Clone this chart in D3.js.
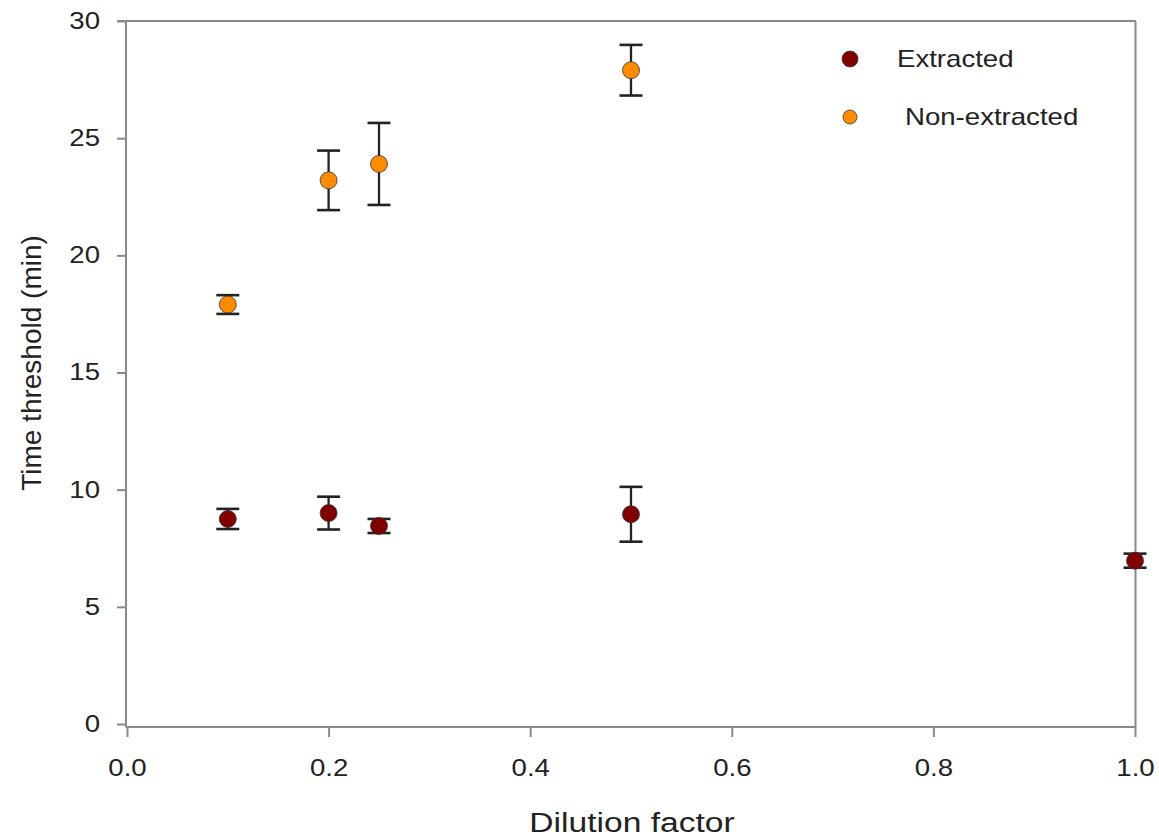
<!DOCTYPE html>
<html>
<head>
<meta charset="utf-8">
<script src="https://cdn.jsdelivr.net/npm/d3@7"></script>
<style>
body { margin: 0; background: #fff; }
text { font-family: "Liberation Sans", Arial, sans-serif; fill: #222; }
</style>
</head>
<body>
<script>
var width = 1159, height = 840;

// dilution factors and readings
var extractedX = [0.1, 0.2, 0.25, 0.5, 1.0];
var extractedY = [8.75, 9.0, 8.45, 8.95, 6.97];
var extractedErr = [0.43, 0.7, 0.3, 1.17, 0.3];

var nonExtractedX = [0.1, 0.2, 0.25, 0.5];
var nonExtractedY = [17.9, 23.2, 23.9, 27.9];
var nonExtractedErr = [0.4, 1.27, 1.75, 1.08];

var xTicks = [0.0, 0.2, 0.4, 0.6, 0.8, 1.0];
var yTicks = [0, 5, 10, 15, 20, 25, 30];

var seriesNames = ["Extracted", "Non-extracted"];
var seriesColors = ["#800000", "#ff8c00"];

var x = d3.scaleLinear().domain([0, 1]).range([127, 1135]);
var y = d3.scaleLinear().domain([0, 30]).range([724, 21]);
var axisColor = "#8a8a8a";
var stretch = 1.2; // the original picture is a bit wider than tall

var svg = d3.select("body")
.append("svg")
.attr("width", width)
.attr("height", height);

// frame: top and right lines
svg.append("line")
	.attr("x1", 117).attr("y1", y(30)).attr("x2", 1136).attr("y2", y(30))
	.attr("stroke", axisColor).attr("stroke-width", 2);
svg.append("line")
	.attr("x1", 1135.5).attr("y1", y(30)).attr("x2", 1135.5).attr("y2", 727)
	.attr("stroke", axisColor).attr("stroke-width", 2);

var yAxis = svg.append("g")
	.attr("transform", "translate(126,0)")
	.call(d3.axisLeft(y).tickValues(yTicks).tickSize(9).tickPadding(17).tickFormat(d3.format("d")));

var xAxis = svg.append("g")
	.attr("transform", "translate(0,727)")
	.call(d3.axisBottom(x).tickValues(xTicks).tickSize(10).tickPadding(23).tickFormat(d3.format(".1f")));

[yAxis, xAxis].forEach(function(ax){
	ax.select(".domain").attr("stroke", axisColor).attr("stroke-width", 2);
	ax.selectAll(".tick line").attr("stroke", axisColor).attr("stroke-width", 2);
	ax.selectAll(".tick text")
		.attr("font-size", 23).attr("fill", "#222")
		.attr("font-family", "Liberation Sans, Arial, sans-serif")
		.attr("x", function(){ return (+d3.select(this).attr("x") || 0) / stretch; })
		.attr("transform", "scale(" + stretch + ",1)");
});
yAxis.select(".domain").attr("d", "M0,727V" + y(30));
xAxis.select(".domain").attr("d", "M" + 126 + ",0H1136");

svg.append("text")
	.attr("transform", "translate(632,832) scale(" + stretch + ",1)")
	.attr("text-anchor", "middle")
	.attr("font-size", 28)
	.text("Dilution factor");

svg.append("text")
	.attr("transform", "translate(41,363) rotate(-90)")
	.attr("text-anchor", "middle")
	.attr("font-size", 28)
	.text("Time threshold (min)");

function drawSeries(xs, ys, errs, color){
	var g = svg.append("g");
	var pts = xs.map(function(d, i){ return {x: d, y: ys[i], e: errs[i]}; });
	var capW = 11.5;
	g.selectAll(".err").data(pts).enter().append("line")
		.attr("x1", function(d){ return x(d.x); }).attr("x2", function(d){ return x(d.x); })
		.attr("y1", function(d){ return y(d.y - d.e); }).attr("y2", function(d){ return y(d.y + d.e); })
		.attr("stroke", "#222").attr("stroke-width", 2.3);
	g.selectAll(".capTop").data(pts).enter().append("line")
		.attr("x1", function(d){ return x(d.x) - capW; }).attr("x2", function(d){ return x(d.x) + capW; })
		.attr("y1", function(d){ return y(d.y + d.e); }).attr("y2", function(d){ return y(d.y + d.e); })
		.attr("stroke", "#222").attr("stroke-width", 2.6);
	g.selectAll(".capBot").data(pts).enter().append("line")
		.attr("x1", function(d){ return x(d.x) - capW; }).attr("x2", function(d){ return x(d.x) + capW; })
		.attr("y1", function(d){ return y(d.y - d.e); }).attr("y2", function(d){ return y(d.y - d.e); })
		.attr("stroke", "#222").attr("stroke-width", 2.6);
	g.selectAll("circle").data(pts).enter().append("circle")
		.attr("cx", function(d){ return x(d.x); })
		.attr("cy", function(d){ return y(d.y); })
		.attr("r", 8.5)
		.attr("fill", color)
		.attr("stroke", "#333").attr("stroke-width", 0.8);
}

drawSeries(extractedX, extractedY, extractedErr, seriesColors[0]);
drawSeries(nonExtractedX, nonExtractedY, nonExtractedErr, seriesColors[1]);

// legend
var legendY = [59, 117];
var legendTextX = [897, 905];
seriesNames.forEach(function(name, i){
	svg.append("circle")
		.attr("cx", 850).attr("cy", legendY[i]).attr("r", i == 0 ? 8 : 7)
		.attr("fill", seriesColors[i]).attr("stroke", "#333").attr("stroke-width", 0.8);
	svg.append("text")
		.attr("transform", "translate(" + legendTextX[i] + "," + (legendY[i] + 8) + ") scale(" + stretch + ",1)")
		.attr("font-size", 23)
		.text(name);
});
</script>
</body>
</html>
